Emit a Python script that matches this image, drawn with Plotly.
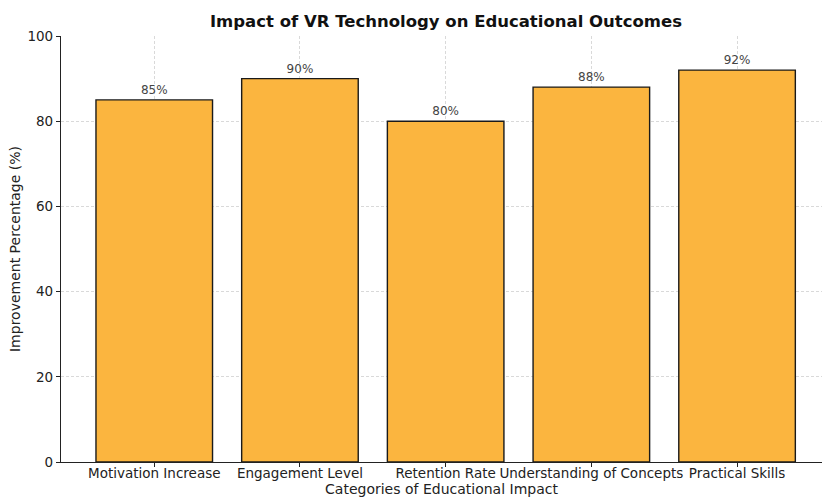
import plotly.graph_objects as go

# Survey results: improvement per educational category
categories = [
    "Motivation Increase",
    "Engagement Level",
    "Retention Rate",
    "Understanding of Concepts",
    "Practical Skills",
]
improvement = [85, 90, 80, 88, 92]
y_ticks = [0, 20, 40, 60, 80, 100]

FONT = "DejaVu Sans"
BAR_COLOR = "#FBB53F"
GRID = "#d9d9d9"

fig = go.Figure()
fig.add_trace(
    go.Bar(
        x=list(range(len(categories))),
        y=improvement,
        width=0.8,
        marker=dict(color=BAR_COLOR, line=dict(color="#1a1a1a", width=1.4)),
        text=[f"{v}%" for v in improvement],
        textposition="outside",
        cliponaxis=False,
        textfont=dict(family=FONT, size=12, color="#444444"),
        hoverinfo="skip",
    )
)

fig.update_layout(
    width=822,
    height=497,
    margin=dict(l=61, r=0, t=36, b=35),
    paper_bgcolor="white",
    plot_bgcolor="white",
    showlegend=False,
    title=dict(
        text="<b>Impact of VR Technology on Educational Outcomes</b>",
        x=446 / 822,
        xanchor="center",
        xref="container",
        y=1 - 21 / 497,
        yanchor="middle",
        yref="container",
        font=dict(family=FONT, size=16.5, color="#111111"),
    ),
    xaxis=dict(
        range=[-0.64, 4.583],
        tickmode="array",
        tickvals=list(range(len(categories))),
        ticktext=categories,
        tickangle=0,
        showgrid=True,
        gridcolor=GRID,
        griddash="3px,2px",
        gridwidth=1,
        zeroline=False,
        showline=True,
        linecolor="#222222",
        linewidth=1.2,
        ticks="outside",
        ticklen=4,
        tickcolor="#222222",
        ticklabelstandoff=-5,
        tickfont=dict(family=FONT, size=13.5, color="#222222"),
        title=dict(text="Categories of Educational Impact", standoff=3,
                   font=dict(family=FONT, size=14, color="#222222")),
    ),
    yaxis=dict(
        range=[0, 100],
        tickmode="array",
        tickvals=y_ticks,
        showgrid=True,
        gridcolor=GRID,
        griddash="3px,2px",
        gridwidth=1,
        zeroline=False,
        showline=True,
        linecolor="#222222",
        linewidth=1.2,
        ticks="outside",
        ticklen=4,
        tickcolor="#222222",
        tickfont=dict(family=FONT, size=13.5, color="#222222"),
        title=dict(text="Improvement Percentage (%)", standoff=3,
                   font=dict(family=FONT, size=14, color="#222222")),
    ),
)

fig.write_html("out.html")
